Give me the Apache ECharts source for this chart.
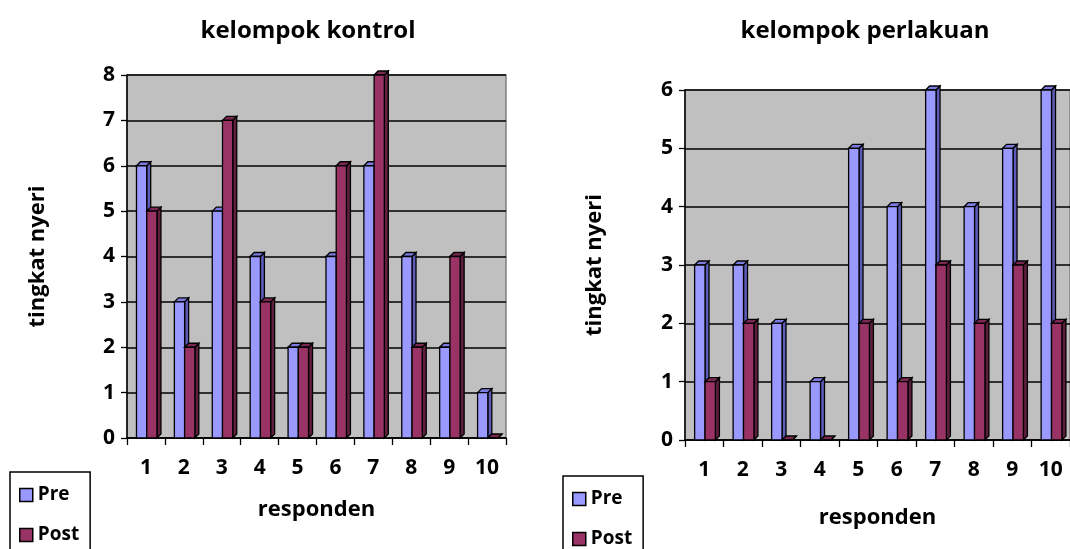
<!DOCTYPE html>
<html>
<head>
<meta charset="utf-8">
<script src="https://cdn.jsdelivr.net/npm/echarts@6/dist/echarts.min.js"></script>
<style>
  html, body { margin: 0; padding: 0; background: #fff; }
  #chart { width: 1070px; height: 549px; }
</style>
</head>
<body>
<div id="chart"></div>
<script>
// Pain level (tingkat nyeri) per respondent, before and after
const respondents = ['1', '2', '3', '4', '5', '6', '7', '8', '9', '10'];
const kontrolPre  = [6, 3, 5, 4, 2, 4, 6, 4, 2, 1];
const kontrolPost = [5, 2, 7, 3, 2, 6, 8, 2, 4, 0];
const perlakuanPre  = [3, 3, 2, 1, 5, 4, 6, 4, 5, 6];
const perlakuanPost = [1, 2, 0, 0, 2, 1, 3, 2, 3, 2];

const FONT = '"Open Sans", "Noto Sans", sans-serif';
const PRE = { front: '#9999FF', top: '#7b7be0', side: '#5c5cb8' };
const POST = { front: '#993366', top: '#7a2850', side: '#5e1f3e' };

// Pseudo-3D column: front face, top face and right side face
function barRenderer(slot, colors) {
  return function (params, api) {
    const cat = api.value(0), val = api.value(1);
    const base = api.coord([cat, 0]);
    const top = api.coord([cat, val]);
    const band = api.size([1, 0])[0];
    const w = band * 0.27;
    const x0 = base[0] + (slot - 1) * w + band * 0.02;
    const d = 4;
    const stroke = { stroke: '#000', lineWidth: 1.3 };
    return {
      type: 'group',
      children: [
        {
          type: 'polygon',
          shape: { points: [[x0 + w, top[1]], [x0 + w + d, top[1] - d], [x0 + w + d, base[1] - d], [x0 + w, base[1]]] },
          style: Object.assign({ fill: colors.side }, stroke)
        },
        {
          type: 'polygon',
          shape: { points: [[x0, top[1]], [x0 + d, top[1] - d], [x0 + w + d, top[1] - d], [x0 + w, top[1]]] },
          style: Object.assign({ fill: colors.top }, stroke)
        },
        {
          type: 'rect',
          shape: { x: x0, y: top[1], width: w, height: base[1] - top[1] },
          style: Object.assign({ fill: colors.front }, stroke)
        }
      ]
    };
  };
}

function series(name, values, idx, slot, colors) {
  return {
    name: name,
    type: 'custom',
    xAxisIndex: idx,
    yAxisIndex: idx,
    itemStyle: { color: colors.front, borderColor: '#000', borderWidth: 1 },
    renderItem: barRenderer(slot, colors),
    data: values.map((v, i) => [i, v])
  };
}

function xAxis(idx, nameGap) {
  return {
    type: 'category',
    gridIndex: idx,
    data: respondents,
    name: 'responden',
    nameLocation: 'middle',
    nameGap: nameGap,
    nameTextStyle: { fontFamily: FONT, fontWeight: 'bold', fontSize: 22, color: '#000' },
    axisLine: { lineStyle: { color: '#000', width: 1.5 } },
    axisTick: { show: true, length: 7, lineStyle: { color: '#000', width: 1.3 } },
    axisLabel: { fontFamily: FONT, fontWeight: 'bold', fontSize: 21, color: '#000', margin: 20 },
    splitLine: { show: false }
  };
}

function yAxis(idx, max, nameGap) {
  return {
    type: 'value',
    gridIndex: idx,
    min: 0,
    max: max,
    interval: 1,
    name: 'tingkat nyeri',
    nameLocation: 'middle',
    nameRotate: 90,
    nameGap: nameGap,
    nameTextStyle: { fontFamily: FONT, fontWeight: 'bold', fontSize: 22, color: '#000' },
    axisLine: { show: true, lineStyle: { color: '#000', width: 1.5 } },
    axisTick: { show: true, inside: false, length: 6, lineStyle: { color: '#000', width: 1.3 } },
    axisLabel: { fontFamily: FONT, fontWeight: 'bold', fontSize: 21, color: '#000', margin: 12 },
    splitLine: { show: true, lineStyle: { color: '#000', width: 1.5 } }
  };
}

function legend(left, top) {
  return {
    orient: 'vertical',
    left: left,
    top: top,
    height: 200,
    icon: 'rect',
    itemWidth: 13,
    itemHeight: 13,
    itemGap: 20,
    padding: [13, 11, 20, 9],
    borderColor: '#000',
    borderWidth: 1.5,
    backgroundColor: '#fff',
    selectedMode: false,
    textStyle: { fontFamily: FONT, fontWeight: 'bold', fontSize: 19, lineHeight: 20, color: '#000' },
    data: [
      { name: 'Pre', itemStyle: { color: PRE.front, borderColor: '#000', borderWidth: 1.5 } },
      { name: 'Post', itemStyle: { color: POST.front, borderColor: '#000', borderWidth: 1.5 } }
    ]
  };
}

const chart = echarts.init(document.getElementById('chart'), null, { renderer: 'canvas' });
chart.setOption({
  backgroundColor: '#fff',
  animation: false,
  graphic: [
    { type: 'text', x: 308, y: 31, style: { text: 'kelompok kontrol', font: 'bold 24px ' + FONT, fill: '#000', textAlign: 'center', textVerticalAlign: 'middle' } },
    { type: 'text', x: 865, y: 31, style: { text: 'kelompok perlakuan', font: 'bold 24px ' + FONT, fill: '#000', textAlign: 'center', textVerticalAlign: 'middle' } }
  ],
  grid: [
    { left: 127, top: 75, width: 379, height: 363, show: true, backgroundColor: '#c0c0c0', borderColor: '#808080', borderWidth: 1.5 },
    { left: 685, top: 90, width: 391, height: 350, show: true, backgroundColor: '#c0c0c0', borderColor: '#808080', borderWidth: 1.5 }
  ],
  xAxis: [xAxis(0, 61), xAxis(1, 67)],
  yAxis: [yAxis(0, 8, 78), yAxis(1, 6, 79)],
  legend: [legend(10, 472), legend(563, 476)],
  series: [
    series('Pre', kontrolPre, 0, 0, PRE),
    series('Post', kontrolPost, 0, 1, POST),
    series('Pre', perlakuanPre, 1, 0, PRE),
    series('Post', perlakuanPost, 1, 1, POST)
  ]
});
</script>
</body>
</html>
